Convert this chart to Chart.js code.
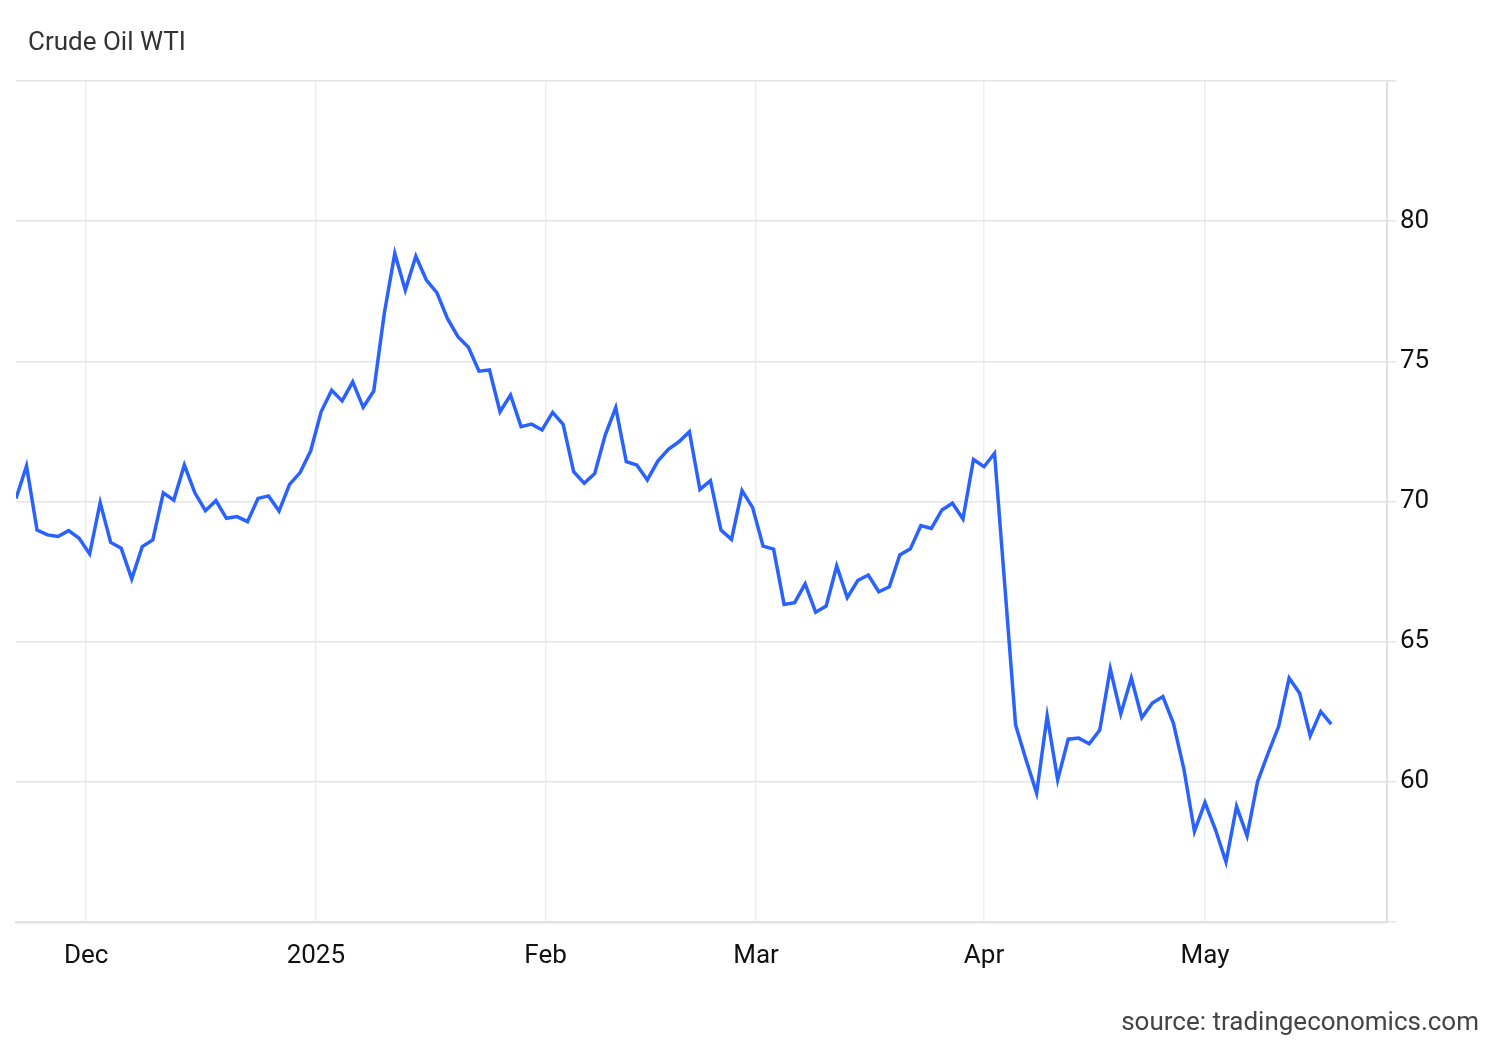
<!DOCTYPE html>
<html>
<head>
<meta charset="utf-8">
<script src="https://cdn.jsdelivr.net/npm/chart.js@4.4.1/dist/chart.umd.min.js"></script>
<style>
  html, body { margin: 0; padding: 0; background: #ffffff; }
  #wrap { width: 1500px; height: 1040px; position: relative; }
  canvas { display: block; }
</style>
</head>
<body>
<div id="wrap"><canvas id="c" width="1500" height="1040"></canvas></div>
<script>
// ---- Data ----
const titleText = 'Crude Oil WTI';
const sourceText = 'source: tradingeconomics.com';

const dates = [
  '2024-11-21','2024-11-22','2024-11-25','2024-11-26','2024-11-27','2024-11-28','2024-11-29',
  '2024-12-02','2024-12-03','2024-12-04','2024-12-05','2024-12-06','2024-12-09','2024-12-10','2024-12-11','2024-12-12','2024-12-13',
  '2024-12-16','2024-12-17','2024-12-18','2024-12-19','2024-12-20','2024-12-23','2024-12-24','2024-12-25','2024-12-26','2024-12-27',
  '2024-12-30','2024-12-31',
  '2025-01-02','2025-01-03','2025-01-06','2025-01-07','2025-01-08','2025-01-09','2025-01-10','2025-01-13','2025-01-14','2025-01-15',
  '2025-01-16','2025-01-17','2025-01-20','2025-01-21','2025-01-22','2025-01-23','2025-01-24','2025-01-27','2025-01-28','2025-01-29',
  '2025-01-30','2025-01-31',
  '2025-02-03','2025-02-04','2025-02-05','2025-02-06','2025-02-07','2025-02-10','2025-02-11','2025-02-12','2025-02-13','2025-02-14',
  '2025-02-17','2025-02-18','2025-02-19','2025-02-20','2025-02-21','2025-02-24','2025-02-25','2025-02-26','2025-02-27','2025-02-28',
  '2025-03-03','2025-03-04','2025-03-05','2025-03-06','2025-03-07','2025-03-10','2025-03-11','2025-03-12','2025-03-13','2025-03-14',
  '2025-03-17','2025-03-18','2025-03-19','2025-03-20','2025-03-21','2025-03-24','2025-03-25','2025-03-26','2025-03-27','2025-03-28',
  '2025-03-31',
  '2025-04-01','2025-04-02','2025-04-03','2025-04-04','2025-04-07','2025-04-08','2025-04-09','2025-04-10','2025-04-11','2025-04-14',
  '2025-04-15','2025-04-16','2025-04-17','2025-04-21','2025-04-22','2025-04-23','2025-04-24','2025-04-25','2025-04-28','2025-04-29',
  '2025-04-30',
  '2025-05-01','2025-05-02','2025-05-05','2025-05-06','2025-05-07','2025-05-08','2025-05-09','2025-05-12','2025-05-13','2025-05-14',
  '2025-05-15','2025-05-16','2025-05-19'
];

const prices = [
  70.11, 71.27, 68.98, 68.81, 68.75, 68.96, 68.69,
  68.13, 69.96, 68.54, 68.33, 67.24, 68.39, 68.63, 70.31, 70.05, 71.30,
  70.31, 69.67, 70.03, 69.40, 69.46, 69.28, 70.11, 70.20, 69.66, 70.61,
  71.03, 71.80,
  73.20, 73.97, 73.59, 74.27, 73.36, 73.94, 76.71, 78.85, 77.54, 78.75,
  77.90, 77.45, 76.53, 75.88, 75.50, 74.65, 74.69, 73.20, 73.80, 72.67,
  72.76, 72.55,
  73.18, 72.75, 71.06, 70.65, 71.00, 72.37, 73.35, 71.42, 71.30, 70.77,
  71.44, 71.86, 72.13, 72.49, 70.43, 70.74, 68.98, 68.65, 70.39, 69.79,
  68.41, 68.30, 66.33, 66.39, 67.06, 66.05, 66.27, 67.70, 66.57, 67.18,
  67.38, 66.78, 66.96, 68.09, 68.31, 69.14, 69.04, 69.70, 69.94, 69.38,
  71.50,
  71.24, 71.72, 66.88, 62.03, 60.78, 59.60, 62.35, 60.07, 61.52, 61.56,
  61.36, 61.85, 64.03, 62.42, 63.70, 62.29, 62.81, 63.04, 62.09, 60.45,
  58.23,
  59.26, 58.29, 57.14, 59.12, 58.07, 60.01, 61.02, 61.97, 63.70, 63.16,
  61.64, 62.51, 62.06
];

const monthStarts = ['2024-12-01','2025-01-01','2025-02-01','2025-03-01','2025-04-01','2025-05-01'];
const monthLabels = ['Dec','2025','Feb','Mar','Apr','May'];

const yTicks = [55, 60, 65, 70, 75, 80, 85];
const yLabelled = [60, 65, 70, 75, 80];
const yMin = 55, yMax = 85;
const xRightPad = 5.3; // empty trading-day slots after last point

// ---- Build ----
const points = prices.map((v, i) => ({ x: i, y: v }));

// position of each month start along the trading-day index axis (interpolated by calendar time)
const monthPos = monthStarts.map(ms => {
  const t = Date.parse(ms);
  for (let i = 0; i < dates.length - 1; i++) {
    const a = Date.parse(dates[i]), b = Date.parse(dates[i + 1]);
    if (t >= a && t < b) return i + (t - a) / (b - a);
  }
  return null;
});

const FONT = 'Roboto';

const textPlugin = {
  id: 'texts',
  afterDraw(chart) {
    const ctx = chart.ctx;
    ctx.save();
    ctx.font = '26px ' + FONT;
    ctx.fillStyle = '#333333';
    ctx.textAlign = 'left';
    ctx.textBaseline = 'alphabetic';
    ctx.fillText(titleText, 28, 50);
    ctx.fillStyle = '#444444';
    ctx.textAlign = 'right';
    ctx.fillText(sourceText, 1479, 1030);
    ctx.restore();
  }
};

new Chart(document.getElementById('c'), {
  type: 'line',
  data: {
    datasets: [{
      data: points,
      borderColor: '#2962ff',
      borderWidth: 3.5,
      pointRadius: 0,
      pointHoverRadius: 0,
      tension: 0,
      fill: false
    }]
  },
  options: {
    responsive: false,
    animation: false,
    devicePixelRatio: 1,
    layout: { padding: { left: 16, right: 0, top: 81, bottom: 0 } },
    plugins: { legend: { display: false }, tooltip: { enabled: false }, title: { display: false } },
    scales: {
      x: {
        type: 'linear',
        min: 0,
        max: prices.length - 1 + xRightPad,
        afterBuildTicks(scale) { scale.ticks = monthPos.map(v => ({ value: v })); },
        afterFit(scale) { scale.height = 1040 - 922; },
        grid: { color: '#ebeff4', lineWidth: 1.5, drawTicks: false },
        border: { display: true, color: '#e3e3e3', width: 2.5 },
        ticks: {
          autoSkip: false, maxRotation: 0, padding: 19,
          color: '#111111',
          font: { family: FONT, size: 26 },
          callback: (v, i) => monthLabels[i]
        }
      },
      y: {
        position: 'right',
        min: yMin,
        max: yMax,
        afterBuildTicks(scale) { scale.ticks = yTicks.map(v => ({ value: v })); },
        afterFit(scale) { scale.width = 1500 - 1387; },
        grid: { color: '#e5e5e5', lineWidth: 1.5, drawTicks: true, tickLength: 9 },
        border: { display: true, color: '#e0e0e0', width: 2 },
        ticks: {
          padding: 4,
          color: '#111111',
          font: { family: FONT, size: 26 },
          callback: v => (yLabelled.includes(v) ? String(v) : '')
        }
      }
    }
  },
  plugins: [textPlugin]
});
</script>
</body>
</html>
